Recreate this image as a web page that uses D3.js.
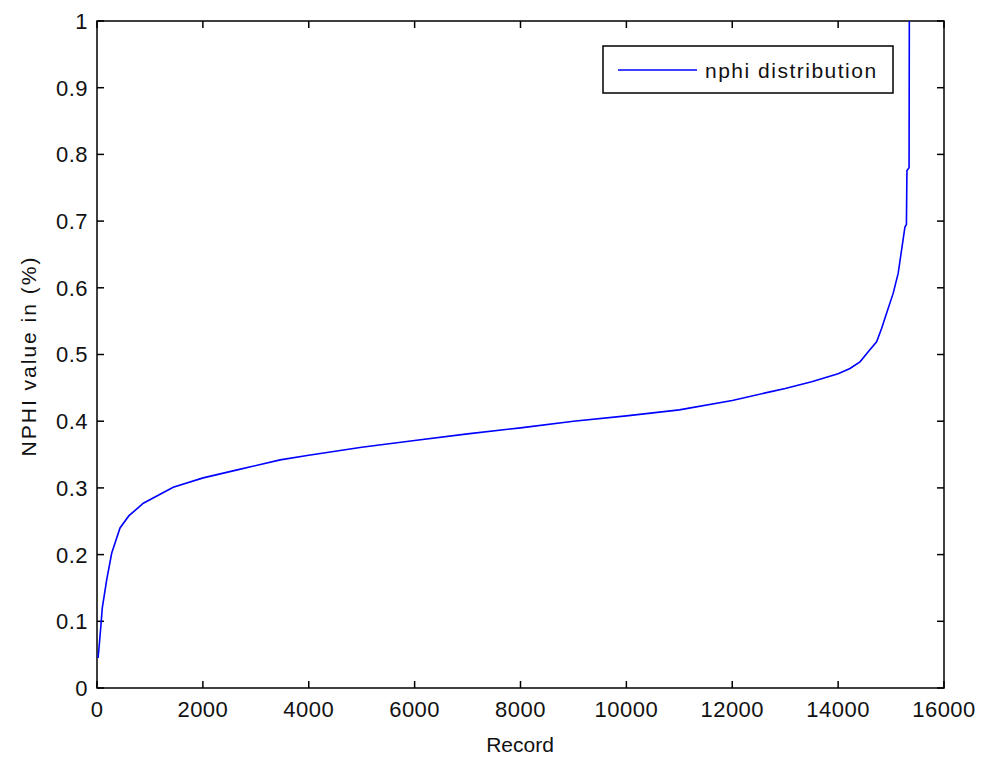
<!DOCTYPE html>
<html>
<head>
<meta charset="utf-8">
<script src="https://cdn.jsdelivr.net/npm/d3@7"></script>
<style>
  body { margin: 0; background: #fff; }
  text { font-family: "Liberation Sans", Arial, sans-serif; fill: #111; }
</style>
</head>
<body>
<div id="chart"></div>
<script>
// sorted NPHI values against record index
var records = [20, 38, 70, 100, 183, 277, 435, 600, 875, 1440, 2005, 2650, 3460, 4000, 5000,
  6000, 7000, 8000, 9000, 10000, 11000, 12000, 12712, 13000, 13500, 14000, 14224, 14413,
  14600, 14727, 14821, 14915, 15041, 15135, 15199, 15262, 15290, 15300, 15340, 15345];
var nphi = [0.045, 0.06, 0.09, 0.12, 0.162, 0.202, 0.24, 0.258, 0.277, 0.301, 0.315, 0.327, 0.342, 0.349, 0.361,
  0.371, 0.381, 0.390, 0.400, 0.408, 0.417, 0.431, 0.444, 0.449, 0.459, 0.471, 0.479, 0.489,
  0.507, 0.519, 0.539, 0.562, 0.592, 0.622, 0.657, 0.691, 0.695, 0.776, 0.78, 1.0];
var xTicks = [0, 2000, 4000, 6000, 8000, 10000, 12000, 14000, 16000];
var yTicks = [0, 0.1, 0.2, 0.3, 0.4, 0.5, 0.6, 0.7, 0.8, 0.9, 1];
var seriesName = "nphi distribution";

var width = 987, height = 760;
var plotL = 97, plotR = 944, plotT = 21, plotB = 688;

var svg = d3.select("#chart").append("svg")
  .attr("width", width)
  .attr("height", height);

var x = d3.scaleLinear().domain([0, 16000]).range([plotL, plotR]);
var y = d3.scaleLinear().domain([0, 1]).range([plotB, plotT]);

var tickLen = 7;

// frame
svg.append("rect")
  .attr("x", plotL).attr("y", plotT)
  .attr("width", plotR - plotL).attr("height", plotB - plotT)
  .attr("fill", "none").attr("stroke", "#000").attr("stroke-width", 1.5);

// ticks pointing inward on all four sides
xTicks.forEach(function (t) {
  svg.append("line").attr("x1", x(t)).attr("x2", x(t)).attr("y1", plotB).attr("y2", plotB - tickLen)
    .attr("stroke", "#000").attr("stroke-width", 1.5);
  svg.append("line").attr("x1", x(t)).attr("x2", x(t)).attr("y1", plotT).attr("y2", plotT + tickLen)
    .attr("stroke", "#000").attr("stroke-width", 1.5);
  svg.append("text")
    .attr("x", x(t)).attr("y", 717)
    .attr("text-anchor", "middle")
    .style("font-size", "22px")
    .style("letter-spacing", "0.5px")
    .text(t);
});

yTicks.forEach(function (t) {
  svg.append("line").attr("x1", plotL).attr("x2", plotL + tickLen).attr("y1", y(t)).attr("y2", y(t))
    .attr("stroke", "#000").attr("stroke-width", 1.5);
  svg.append("line").attr("x1", plotR).attr("x2", plotR - tickLen).attr("y1", y(t)).attr("y2", y(t))
    .attr("stroke", "#000").attr("stroke-width", 1.5);
  svg.append("text")
    .attr("x", 88).attr("y", y(t))
    .attr("dy", "0.36em")
    .attr("text-anchor", "end")
    .style("font-size", "22px")
    .style("letter-spacing", "0.5px")
    .text(+t.toFixed(1));
});

// axis labels
svg.append("text")
  .attr("x", 520).attr("y", 752)
  .attr("text-anchor", "middle")
  .style("font-size", "21px")
  .text("Record");

svg.append("text")
  .attr("transform", "translate(36,356)rotate(-90)")
  .attr("text-anchor", "middle")
  .style("font-size", "21px")
  .style("letter-spacing", "2px")
  .text("NPHI value in (%)");

// curve
var pts = records.map(function (r, i) { return [r, nphi[i]]; });
var line = d3.line()
  .x(function (d) { return x(d[0]); })
  .y(function (d) { return y(d[1]); });

svg.append("path")
  .datum(pts)
  .attr("d", line)
  .attr("fill", "none")
  .attr("stroke", "#0000ff")
  .attr("stroke-width", 1.6);

// legend
var lg = svg.append("g");
lg.append("rect")
  .attr("x", 603).attr("y", 46)
  .attr("width", 290).attr("height", 47)
  .attr("fill", "#fff").attr("stroke", "#000").attr("stroke-width", 1.5);
lg.append("line")
  .attr("x1", 618).attr("x2", 697).attr("y1", 70).attr("y2", 70)
  .attr("stroke", "#0000ff").attr("stroke-width", 1.6);
lg.append("text")
  .attr("x", 705).attr("y", 70)
  .attr("dy", "0.36em")
  .style("font-size", "21px")
  .style("letter-spacing", "1.5px")
  .text(seriesName);
</script>
</body>
</html>
